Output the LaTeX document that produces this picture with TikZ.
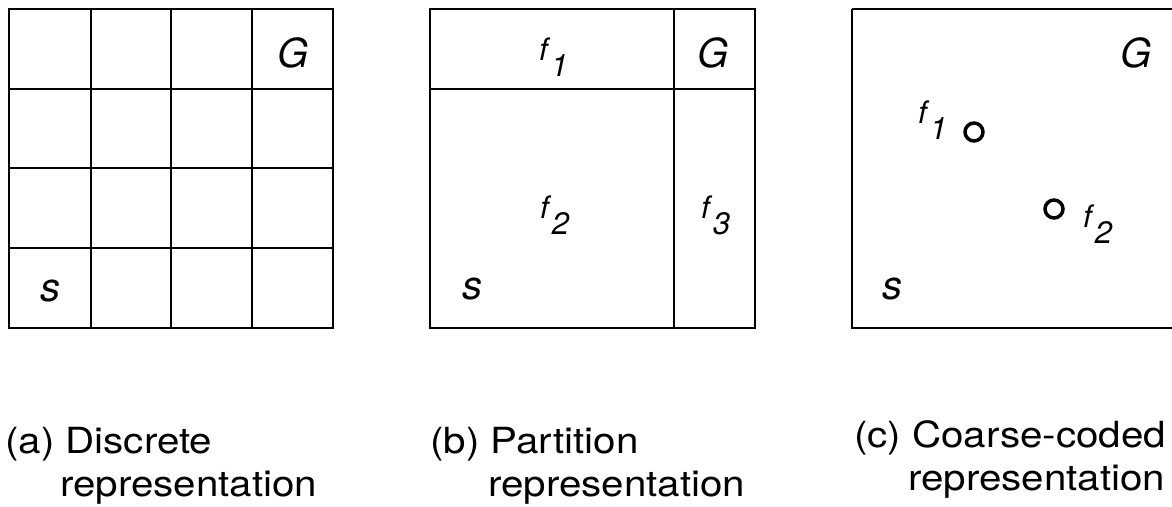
\documentclass[tikz,border=0pt]{standalone}
\usepackage{fontspec}
\setmainfont{TeX Gyre Heros}
\newcommand{\wide}[1]{\scalebox{1.12}[1]{#1}}
\newcommand{\fsub}[1]{f\kern3pt\raisebox{-16pt}{#1}}
\begin{document}
\begin{tikzpicture}[x=1pt,y=-1pt,
  boxline/.style={line width=2.4pt},
  lab/.style={font=\fontsize{40}{40}\selectfont\itshape, inner sep=0pt},
  flab/.style={font=\fontsize{31}{31}\selectfont\itshape, inner sep=0pt, anchor=base west},
  captxt/.style={font=\fontsize{36}{43}\selectfont, inner sep=0pt, anchor=base west},
  featdot/.style={circle, draw, line width=3.5pt, minimum size=18pt, inner sep=0pt}]
\useasboundingbox (0,0) rectangle (1172,506);
% (a) discrete grid
\draw[boxline] (9,9) rectangle (333,328);
\draw[boxline] (91,9) -- (91,328) (171,9) -- (171,328) (252,9) -- (252,328);
\draw[boxline] (9,89) -- (333,89) (9,168) -- (333,168) (9,248) -- (333,248);
\node[lab] (aG) at (293,53) {G};
\node[lab] (aS) at (50,291) {s};
% (b) partition
\draw[boxline] (430,9) rectangle (755,328);
\draw[boxline] (674,9) -- (674,328) (430,89) -- (755,89);
\node[lab] (bG) at (713,53) {G};
\node[lab] (bS) at (472,289) {s};
\node[flab] (bf1) at (539,60) {\fsub{1}};
\node[flab] (bf2) at (540,218) {\fsub{2}};
\node[flab] (bf3) at (701,218) {\fsub{3}};
% (c) coarse coded
\draw[boxline] (852,9) -- (1180,9) (852,9) -- (852,328) -- (1180,328);
\node[lab] (cG) at (1136,53) {G};
\node[lab] (cS) at (892,289) {s};
\node[featdot] (c1) at (974,132) {};
\node[featdot] (c2) at (1054,209) {};
\node[flab] (cf1) at (918,123) {\fsub{1}};
\node[flab] (cf2) at (1083,227) {\fsub{2}};
% captions
\node[captxt] (a1) at (5,453) {\wide{(a) Discrete}};
\node[captxt] (a2) at (60,496) {\wide{representation}};
\node[captxt] (b1) at (430,453) {\wide{(b) Partition}};
\node[captxt] (b2) at (488,496) {\wide{representation}};
\node[captxt] (c1t) at (854,447) {\wide{(c) Coarse-coded}};
\node[captxt] (c2t) at (908,490) {\wide{representation}};
\end{tikzpicture}
\end{document}
